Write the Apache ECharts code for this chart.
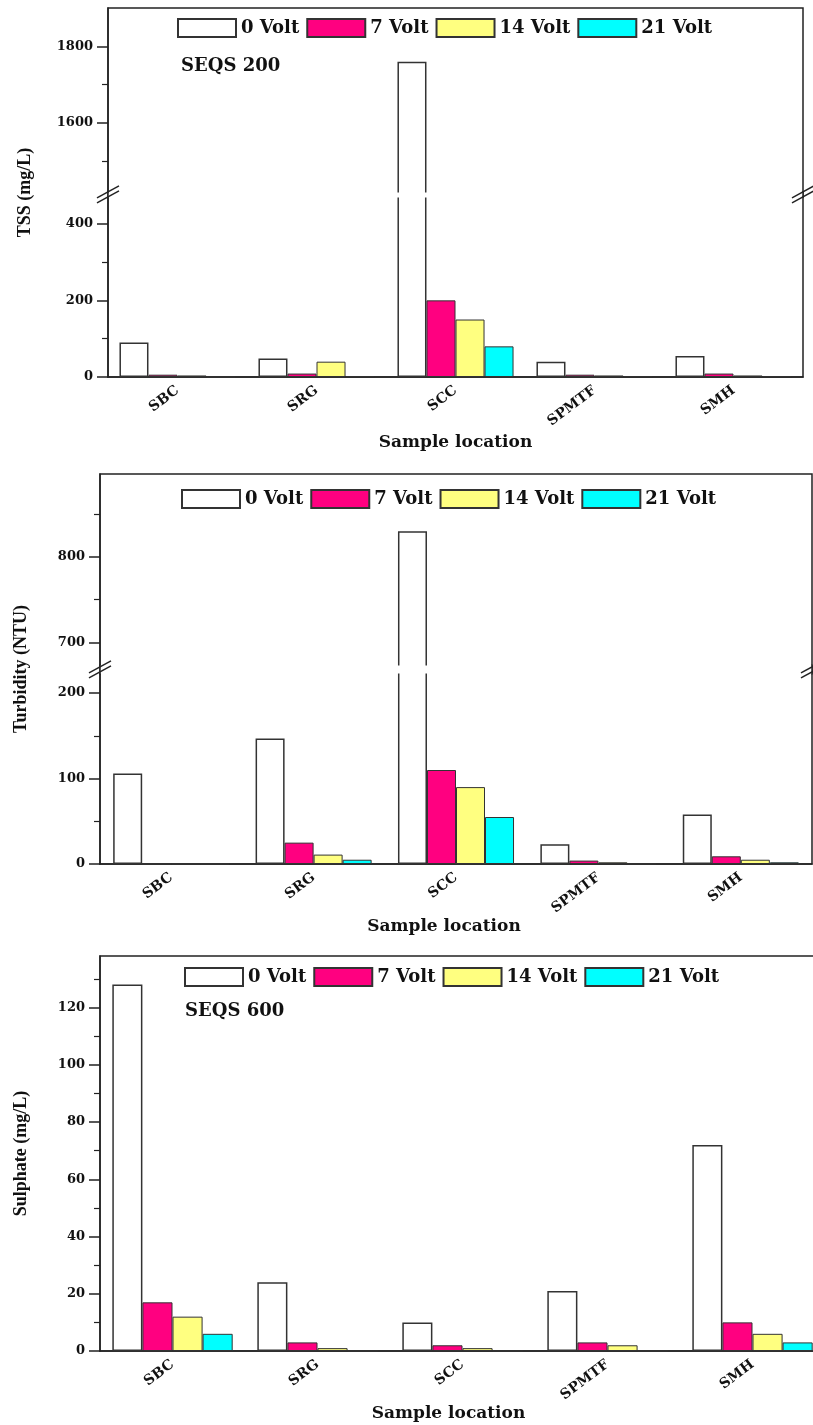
<!DOCTYPE html>
<html>
<head>
<meta charset="utf-8">
<script src="https://cdn.jsdelivr.net/npm/echarts@6/dist/echarts.min.js"></script>
<style>
  html, body { margin: 0; padding: 0; background: #fff; }
  #chart { width: 813px; height: 1425px; }
</style>
</head>
<body>
<div id="chart"></div>
<script>
// sample locations and voltage series
const categories = ['SBC', 'SRG', 'SCC', 'SPMTF', 'SMH'];
const seriesNames = ['0 Volt', '7 Volt', '14 Volt', '21 Volt'];

// TSS (mg/L)
const tss0 = [90, 48, 1760, 40, 55];
const tss7 = [6, 9, 200, 6, 9];
const tss14 = [4, 40, 150, 4, 4];
const tss21 = [0, 2, 80, 2, 2];

// Turbidity (NTU)
const turb0 = [106, 147, 830, 23, 58];
const turb7 = [0, 25, 110, 4, 9];
const turb14 = [0, 11, 90, 2, 5];
const turb21 = [0, 5, 55, 0, 2];

// Sulphate (mg/L)
const sulph0 = [128, 24, 10, 21, 72];
const sulph7 = [17, 3, 2, 3, 10];
const sulph14 = [12, 1, 1, 2, 6];
const sulph21 = [6, 0, 0, 0, 3];

// y tick labels (major) and minor tick values
const tssTicks = [0, 200, 400, 1600, 1800];
const tssMinor = [100, 300, 1500, 1700];
const turbTicks = [0, 100, 200, 700, 800];
const turbMinor = [50, 150, 750, 850];
const sulphTicks = [0, 20, 40, 60, 80, 100, 120];
const sulphMinor = [10, 30, 50, 70, 90, 110, 130];

// y axis ranges and the broken part
const tssAxis = { min: 0, max: 1900, breakStart: 470, breakEnd: 1420, gap: 13 };
const turbAxis = { min: 0, max: 897, breakStart: 223, breakEnd: 673, gap: 9.4 };
const sulphAxis = { min: 0, max: 138 };

const fills = ['#ffffff', '#ff0080', '#ffff80', '#00ffff'];
const wide = "'DejaVu Serif', serif";
const narrow = "'Liberation Serif', 'Times New Roman', serif";
const ink = '#111';
const line = '#222';

const panels = [
  { title: 'TSS (mg/L)', note: 'SEQS 200', axis: tssAxis, ticks: tssTicks, minor: tssMinor,
    values: [tss0, tss7, tss14, tss21],
    grid: { left: 108, right: 10, top: 8, bottom: 1048 }, gapPct: '16.5%',
    legend: { left: 177, top: 18 }, noteXY: [181, 57], nameGap: 74, xNameGap: 57, xShift: 0 },
  { title: 'Turbidity (NTU)', note: '', axis: turbAxis, ticks: turbTicks, minor: turbMinor,
    values: [turb0, turb7, turb14, turb21],
    grid: { left: 100, right: 1, top: 474, bottom: 561 }, gapPct: '18.5%',
    legend: { left: 181, top: 489 }, nameGap: 70, xNameGap: 53, xShift: 24 },
  { title: 'Sulphate (mg/L)', note: 'SEQS 600', axis: sulphAxis, ticks: sulphTicks, minor: sulphMinor,
    values: [sulph0, sulph7, sulph14, sulph21],
    grid: { left: 100, right: -12, top: 956, bottom: 74 }, gapPct: '17%',
    legend: { left: 184, top: 967 }, noteXY: [185, 1002], nameGap: 70, xNameGap: 51, xShift: 28 }
];

const chart = echarts.init(document.getElementById('chart'));

const grid = [], xAxis = [], yAxis = [], series = [], legend = [], title = [];

panels.forEach((p, i) => {
  grid.push(Object.assign({
    show: true, borderColor: line, borderWidth: 1.5, backgroundColor: 'transparent',
    outerBoundsMode: 'none', containLabel: false
  }, p.grid));

  // main category axis: ticks at the group centres
  xAxis.push({
    gridIndex: i, type: 'category', data: categories,
    axisLine: { lineStyle: { color: line, width: 1.5 } },
    axisTick: { alignWithLabel: true, length: 8, lineStyle: { color: line, width: 1.5 } },
    axisLabel: { rotate: 37, margin: 12, color: ink, fontFamily: wide, fontWeight: 'bold', fontSize: 14 },
    name: 'Sample location', nameLocation: 'middle', nameGap: p.xNameGap,
    nameTextStyle: {
      color: ink, fontFamily: wide, fontWeight: 'bold', fontSize: 17,
      padding: [0, p.xShift, 0, 0]
    }
  });
  // second axis only for the short ticks between groups
  xAxis.push({
    gridIndex: i, type: 'category', data: categories, position: 'bottom',
    axisLine: { show: false },
    axisTick: { length: 4, lineStyle: { color: line, width: 1.5 } },
    axisLabel: { show: false }
  });

  const a = p.axis;
  const brk = a.breakStart !== undefined
    ? [{ start: a.breakStart, end: a.breakEnd, gap: a.gap }] : undefined;

  const yMain = {
    gridIndex: i, type: 'value', min: a.min, max: a.max,
    axisLine: { show: true, lineStyle: { color: line, width: 1.5 } },
    axisTick: { show: true, length: 11, customValues: p.ticks, lineStyle: { color: line, width: 1.5 } },
    splitLine: { show: false },
    axisLabel: {
      margin: 15, customValues: p.ticks, formatter: v => String(v),
      color: ink, fontFamily: wide, fontWeight: 'bold', fontSize: 13
    },
    name: p.title, nameLocation: 'middle', nameGap: p.nameGap,
    nameTextStyle: { color: ink, fontFamily: narrow, fontWeight: 'bold', fontSize: 18 }
  };
  // overlay axis carrying only the short minor ticks
  const yMinor = {
    gridIndex: i, type: 'value', min: a.min, max: a.max, position: 'left',
    axisLine: { show: false },
    axisTick: { show: true, length: 6, customValues: p.minor, lineStyle: { color: line, width: 1.2 } },
    axisLabel: { show: false },
    splitLine: { show: false }
  };
  if (brk) {
    yMain.breaks = brk;
    yMain.breakArea = {
      show: true,
      itemStyle: { color: '#fff', borderColor: '#fff', borderWidth: 0, opacity: 1 },
      zigzagAmplitude: 0, zigzagZ: 100, expandOnClick: false
    };
    yMinor.breaks = brk.map(b => Object.assign({}, b));
    yMinor.breakArea = { show: false };
  }
  yAxis.push(yMain, yMinor);

  seriesNames.forEach((name, k) => {
    series.push({
      name, type: 'bar', xAxisIndex: i * 2, yAxisIndex: i * 2,
      data: p.values[k],
      barGap: '0%', barCategoryGap: p.gapPct,
      itemStyle: { color: fills[k], borderColor: '#333', borderWidth: k === 0 ? 1.5 : 1 },
      emphasis: { disabled: true }
    });
  });

  legend.push({
    left: p.legend.left, top: p.legend.top, padding: 0,
    itemWidth: 58, itemHeight: 18, itemGap: 7, selectedMode: false,
    icon: 'rect', data: seriesNames,
    textStyle: { color: ink, fontFamily: wide, fontWeight: 'bold', fontSize: 18 }
  });

  if (p.note) {
    title.push({
      text: p.note, left: p.noteXY[0], top: p.noteXY[1], padding: 0,
      textStyle: { color: ink, fontFamily: wide, fontWeight: 'bold', fontSize: 18 }
    });
  }
});

chart.setOption({
  animation: false,
  backgroundColor: '#fff',
  title, legend, grid, xAxis, yAxis, series
});

// "//" marks on both sides of the broken axes, frame lines kept continuous
const marks = [];
panels.forEach((p, i) => {
  const a = p.axis;
  if (a.breakStart === undefined) return;
  const y0 = chart.convertToPixel({ yAxisIndex: i * 2 }, a.breakStart);
  const y1 = chart.convertToPixel({ yAxisIndex: i * 2 }, a.breakEnd);
  const yc = (y0 + y1) / 2;
  const xl = p.grid.left;
  const xr = 813 - p.grid.right;
  [xl, xr].forEach(x => {
    marks.push({
      type: 'line', z: 200,
      shape: { x1: x, y1: y1 - 1, x2: x, y2: y0 + 1 },
      style: { stroke: line, lineWidth: 1.5 }
    });
    [-2.5, 2.5].forEach(d => {
      marks.push({
        type: 'line', z: 200,
        shape: { x1: x - 11, y1: yc + 6 + d, x2: x + 11, y2: yc - 6 + d },
        style: { stroke: line, lineWidth: 1.5 }
      });
    });
  });
});
chart.setOption({ graphic: marks });
</script>
</body>
</html>
